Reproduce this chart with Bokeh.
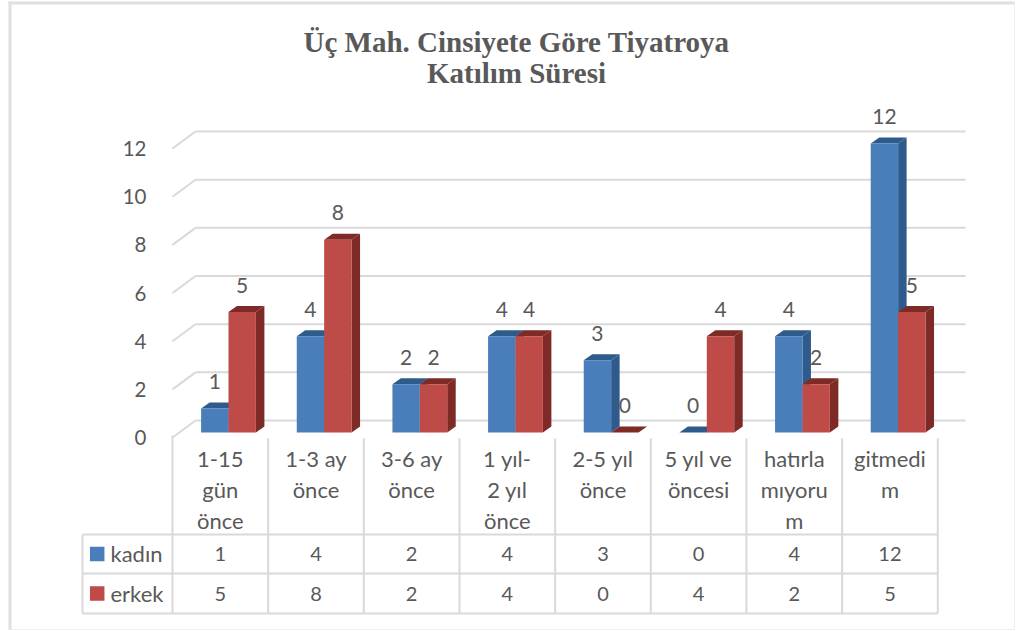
from bokeh.plotting import figure
from bokeh.models import LinearAxis, FixedTicker
from bokeh.core.properties import value
from bokeh.embed import file_html
from bokeh.resources import INLINE

# ---- data ----
categories = ["1-15\ngün\nönce", "1-3 ay\nönce", "3-6 ay\nönce", "1 yıl-\n2 yıl\nönce",
              "2-5 yıl\nönce", "5 yıl ve\nöncesi", "hatırla\nmıyoru\nm", "gitmedi\nm"]
kadin = [1, 4, 2, 4, 3, 0, 4, 12]
erkek = [5, 8, 2, 4, 0, 4, 2, 5]
y_ticks = [0, 2, 4, 6, 8, 10, 12]
title_text = "Üç Mah. Cinsiyete Göre Tiyatroya\nKatılım Süresi"

# ---- layout (page px -> data) ----
PX_X0, UX = 172.0, 95.66      # page x of category 0, px per category
PX_Y0, UY = 437.0, 24.08      # page y of value 0, px per value unit
W, H = 1016, 631
def dx(px): return px / UX
def dy(px): return px / UY
def X(px): return (px - PX_X0) / UX
def Y(py): return (PX_Y0 - py) / UY

FONT = "Lato"
TXT = "#595959"
GRID = "#d9d9d9"
BLUE, BLUE_D = "#4a7ebb", "#2f5a8c"
RED, RED_D = "#be4b48", "#7e2a27"

p = figure(width=W, height=H, output_backend="svg", toolbar_location=None,
           x_range=(X(0), X(W)), y_range=(Y(H), Y(0)),
           x_axis_location=None, y_axis_location=None, title=None,
           min_border_left=0, min_border_right=0, min_border_bottom=0, min_border_top=0)
p.grid.visible = False
p.outline_line_color = None
p.background_fill_color = "white"
p.border_fill_color = "white"

# page rules around the chart
p.segment([X(8)], [Y(629)], [X(1014)], [Y(629)], line_color="#efefef", line_width=1)
p.segment([X(1014)], [Y(2)], [X(1014)], [Y(629)], line_color="#efefef", line_width=1)
p.segment([X(8)], [Y(2.5)], [X(1014)], [Y(2.5)], line_color="#e0e0e0", line_width=3)
p.segment([X(9.5)], [Y(1)], [X(9.5)], [Y(629)], line_color="#e0e0e0", line_width=3)

# title
p.text([X(516)], [Y(57)], text=[title_text], text_align="center", text_baseline="middle",
       text_font=value("Liberation Serif"), text_font_style="bold", text_font_size="29px",
       text_color=TXT, text_line_height=0.95)

# y axis, inside the frame
ya = LinearAxis(ticker=FixedTicker(ticks=y_ticks), fixed_location=X(152),
                axis_line_color=None, major_tick_line_color=None, minor_tick_line_color=None,
                major_label_standoff=0, major_label_text_font=FONT,
                major_label_text_font_size="20.5px", major_label_text_color=TXT)
p.add_layout(ya, "left")

# x axis: category labels in the table header
ctr = [i + 0.5 for i in range(len(categories))]
xa = LinearAxis(ticker=FixedTicker(ticks=ctr), fixed_location=Y(438),
                major_label_overrides={c: t for c, t in zip(ctr, categories)},
                axis_line_color=None, major_tick_line_color=None, minor_tick_line_color=None,
                major_label_standoff=0, major_label_text_font=FONT,
                major_label_text_font_size="22px", major_label_text_color=TXT,
                major_label_text_line_height=1.15)
p.add_layout(xa, "below")

# walls: gridlines
lift = dy(17)
p.segment([X(195)] * len(y_ticks), [v + lift for v in y_ticks], [X(965)] * len(y_ticks),
          [v + lift for v in y_ticks], line_color=GRID, line_width=2)
p.segment([X(172)] * len(y_ticks), y_ticks, [X(195)] * len(y_ticks),
          [v + lift for v in y_ticks], line_color=GRID, line_width=2)

# table
n = len(categories)
row_lines = [534, 573, 613]
p.segment([X(82)] * 3, [Y(r) for r in row_lines], [X(172) + n] * 3, [Y(r) for r in row_lines],
          line_color=GRID, line_width=2)
p.segment([X(82)] * 1, [Y(534)], [X(82)], [Y(613)], line_color=GRID, line_width=2)
verts = list(range(n + 1))
p.segment(verts, [Y(435)] + [Y(438)] * n, verts, [Y(613)] * (n + 1), line_color=GRID, line_width=2)

# 3-D bars
base = dy(5)
BW, OFF1 = 27.4 / UX, 28.6 / UX
ddx, ddy = dx(8.5), dy(6)
for vals, off, col, dark in ((kadin, OFF1, BLUE, BLUE_D), (erkek, OFF1 + 27.4 / UX, RED, RED_D)):
    lefts = [i + off for i in range(n)]
    rights = [l + BW for l in lefts]
    tops = [v + base for v in vals]
    p.patches([[r, r + ddx, r + ddx, r] for r in rights],
              [[base, base + ddy, t + ddy, t] for t in tops],
              fill_color=dark, line_color=None)
    p.patches([[l, l + ddx, r + ddx, r] for l, r in zip(lefts, rights)],
              [[t, t + ddy, t + ddy, t] for t in tops],
              fill_color=dark, line_color=None)
    p.quad(left=lefts, right=rights, bottom=[base] * n, top=tops, fill_color=col, line_color=None)
    # data labels
    p.text([l + BW / 2 for l in lefts], tops, text=[str(v) for v in vals], y_offset=-27,
           text_align="center", text_baseline="middle", text_font=value(FONT),
           text_font_size="21px", text_color=TXT)

# table values
for vals, row_y in ((kadin, 553), (erkek, 593)):
    p.text(ctr, [Y(row_y)] * n, text=[str(v) for v in vals], text_align="center",
           text_baseline="middle", text_font=value(FONT), text_font_size="20px", text_color=TXT)

# legend keys in the table
p.scatter([X(96.7)] * 2, [Y(553.5), Y(593)], marker="square", size=14.5,
          fill_color=[BLUE, RED], line_color=None)
p.text([X(110)] * 2, [Y(553), Y(593)], text=["kadın", "erkek"], text_align="left",
       text_baseline="middle", text_font=value(FONT), text_font_size="22px", text_color=TXT)

open("out.html", "w").write(file_html(p, INLINE))
